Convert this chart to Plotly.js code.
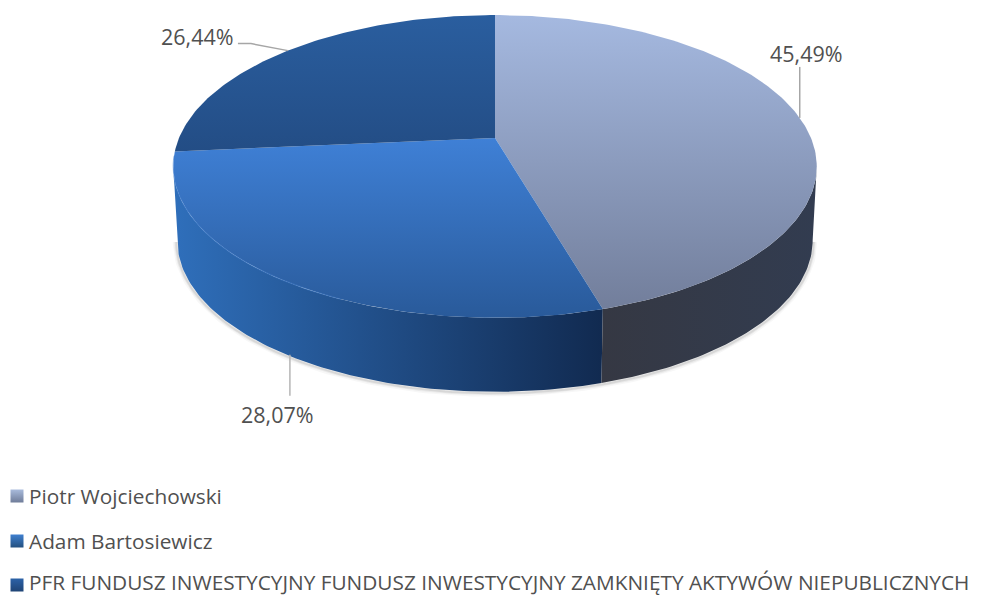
<!DOCTYPE html>
<html><head><meta charset="utf-8">
<script src="https://cdn.plot.ly/plotly-3.0.1.min.js"></script>
<style>html,body{margin:0;padding:0;background:#fff}</style></head>
<body><div id="c" style="width:982px;height:595px"></div>
<script>
const categories = ["Piotr Wojciechowski","Adam Bartosiewicz","PFR FUNDUSZ INWESTYCYJNY FUNDUSZ INWESTYCYJNY ZAMKNIĘTY AKTYWÓW NIEPUBLICZNYCH"];
const shares = [45.49, 28.07, 26.44];
const topGrad = [["#727e9b","#a5b9e0"],["#295a9a","#3f80d6"],["#234d85","#2a5e9f"]];
const wallGrad = [["#353843","#323c50"],["#2f6fbb","#112a50"]];
const keyColors = [["#a9bbdc","#6f7c99"],["#3f80d0","#24507f"],["#2c62a8","#1f4475"]];
const labelPos = [[806,53],[277,414],[197,36]];
const keyY = [496,541,582];
const textColor = "#505050";

// perspective disc projection
const P = {cx:495, k:0.188, top:{R:316,y0:138,H:146}, bot:{R:312,y0:212,H:146}};
function proj(deg, d){
  const t = deg*Math.PI/180, u = Math.sin(t), v = Math.cos(t), w = 1+P.k*v;
  return [P.cx + d.R*u/w, d.y0 - d.H*v/w];
}
function arc(a,b,d){
  const out=[], n=Math.max(8,Math.ceil(Math.abs(b-a)));
  for(let i=0;i<=n;i++) out.push(proj(a+(b-a)*i/n,d));
  return out;
}
const total = shares.reduce((a,b)=>a+b,0);
const angles=[0]; shares.forEach(s=>angles.push(angles[angles.length-1]+s/total*360));
const edgeDeg = Math.acos(-P.k)*180/Math.PI;

const traces=[];
function poly(pts,grad,type){
  traces.push({type:"scatter",mode:"lines",x:pts.map(p=>p[0]),y:pts.map(p=>p[1]),fill:"toself",
    line:{width:0,color:"rgba(0,0,0,0)"},hoverinfo:"skip",showlegend:false,
    fillgradient:{type:type,colorscale:[[0,grad[0]],[1,grad[1]]]}});
}
function stroke(pts,color,w){
  traces.push({type:"scatter",mode:"lines",x:pts.map(p=>p[0]),y:pts.map(p=>p[1]),
    line:{width:w,color:color,shape:"linear"},hoverinfo:"skip",showlegend:false});
}
// soft shadow under the wall
const shadow = arc(edgeDeg,360-edgeDeg,{R:P.bot.R+1,y0:P.bot.y0+1.5,H:P.bot.H});
[[7,"rgba(0,0,0,0.03)"],[4,"rgba(0,0,0,0.05)"],[2,"rgba(0,0,0,0.08)"]].forEach(s=>stroke(shadow,s[1],s[0]));
// walls
[[angles[1],360-edgeDeg,wallGrad[1]],[edgeDeg,angles[1],[wallGrad[0][0],wallGrad[0][1]]]].forEach(r=>{
  const pts=arc(r[0],r[1],P.top).concat(arc(r[1],r[0],P.bot));
  pts.push(pts[0]);
  poly(pts,r[2],"horizontal");
});
// top faces
shares.forEach((s,i)=>{
  const pts=[[P.cx,P.top.y0]].concat(arc(angles[i],angles[i+1],P.top));
  pts.push(pts[0]);
  poly(pts,topGrad[i],"vertical");
});
// rim highlight along the front edge
stroke(arc(angles[1]+40,360-edgeDeg+4,P.top),"rgba(70,130,210,0.35)",1.5);
// leader lines (anchored at slice midpoints)
const mid = i => (angles[i]+angles[i+1])/2;
const a0=proj(mid(0),P.top), a1=proj(mid(1),P.bot), a2=proj(mid(2),P.top);
stroke([a0,[a0[0],a0[1]-51]],"#a6a6a6",1.5);
stroke([[a1[0]+3,a1[1]],[a1[0]+3,a1[1]+41]],"#b5b5b5",1.5);
stroke([a2,[a2[0]-37,a2[1]-7],[a2[0]-50,a2[1]-7]],"#a6a6a6",1.5);
// legend keys
categories.forEach((c,i)=>{
  traces.push({type:"scatter",mode:"markers",x:[17],y:[keyY[i]+(i==2?3:0)],name:c,hoverinfo:"skip",showlegend:false,
    marker:{symbol:"square",size:13,color:keyColors[i][0],line:{width:0},
            gradient:{type:"vertical",color:keyColors[i][1]}}});
});
const ann=[];
shares.forEach((s,i)=>ann.push({x:labelPos[i][0],y:labelPos[i][1],xref:"x",yref:"y",showarrow:false,
  text:s.toFixed(2).replace(".",",")+"%",font:{family:"Open Sans",size:21.5,color:textColor},xanchor:"center",yanchor:"middle"}));
categories.forEach((c,i)=>ann.push({x:29,y:keyY[i],xref:"x",yref:"y",showarrow:false,text:c,align:"left",
  font:{family:"Open Sans",size:20.8,color:textColor},xanchor:"left",yanchor:"middle",xshift:-2}));
Plotly.newPlot("c",traces,{
  width:982,height:595,margin:{l:0,r:0,t:0,b:0},paper_bgcolor:"#fff",plot_bgcolor:"#fff",showlegend:false,
  xaxis:{range:[0,982],visible:false,fixedrange:true},
  yaxis:{range:[595,0],visible:false,fixedrange:true},
  annotations:ann
},{displayModeBar:false,staticPlot:true});
</script></body></html>
